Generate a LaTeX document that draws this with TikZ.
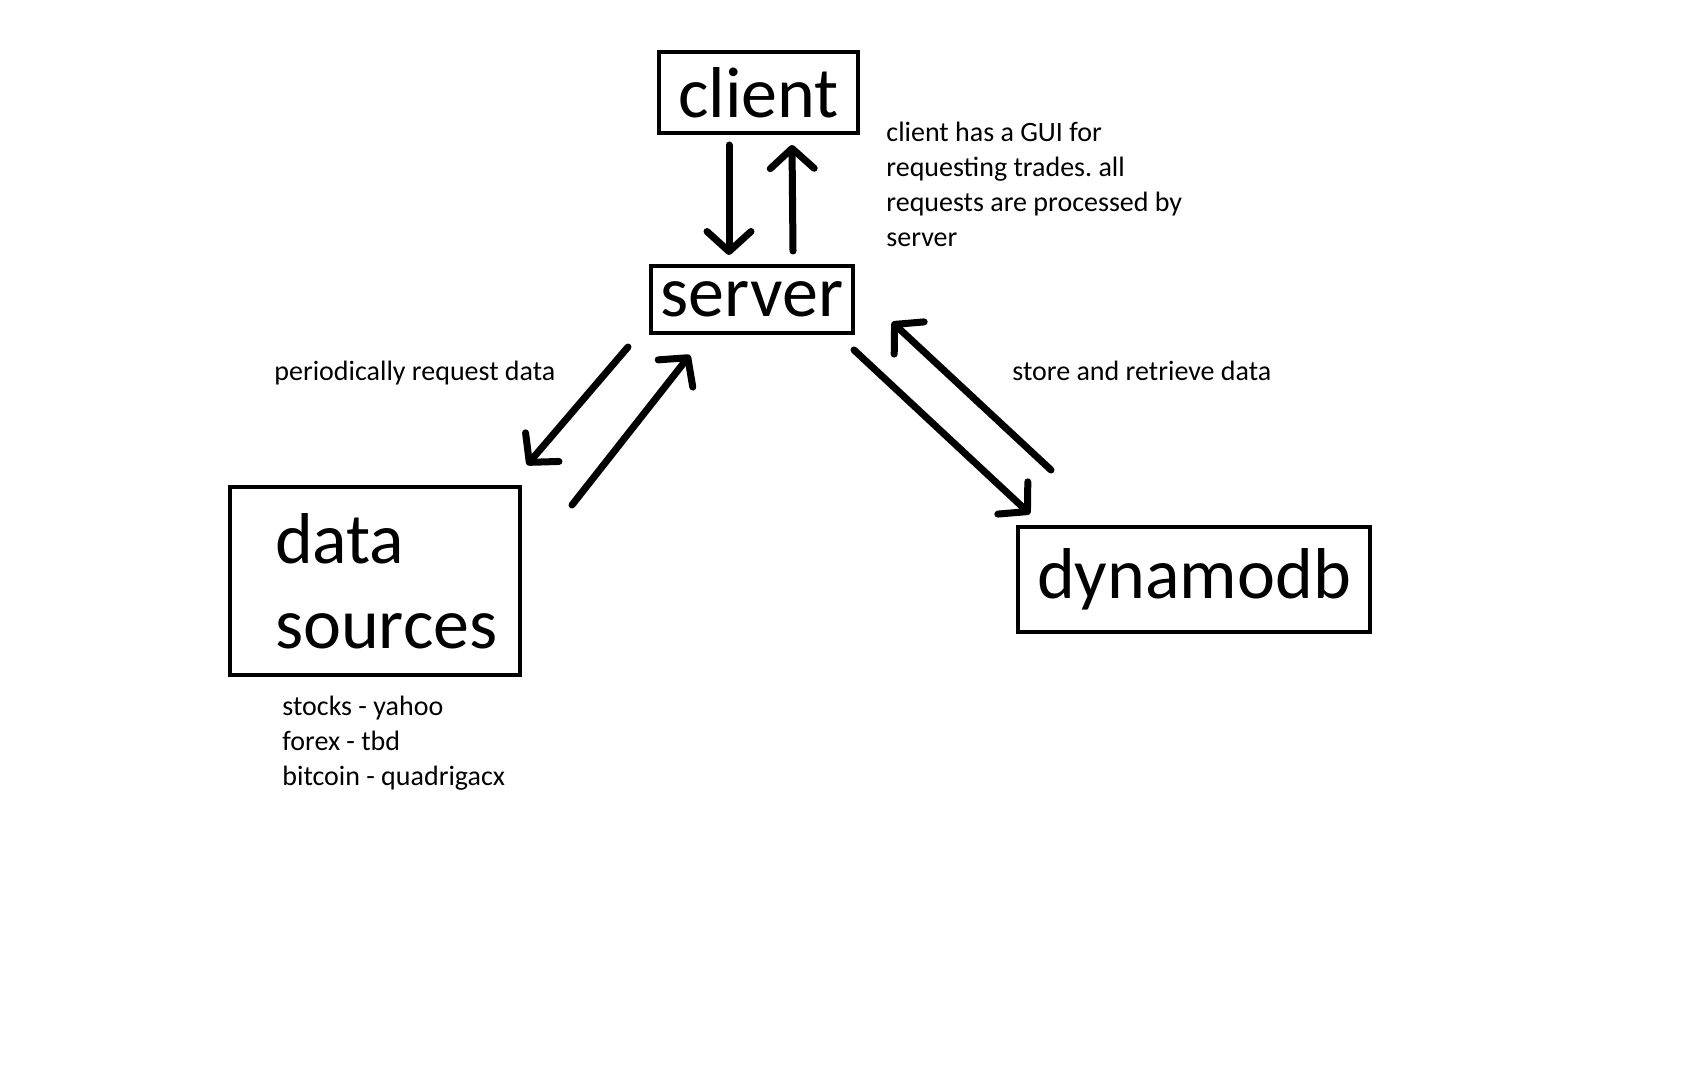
\documentclass[tikz,border=0pt]{standalone}
\usepackage{fontspec}
\setmainfont{Carlito}
\frenchspacing
\usetikzlibrary{arrows.meta}

\tikzset{
  box/.style={draw, line width=2pt, inner sep=0pt, font=\fontsize{36}{42.5}\selectfont},
  note/.style={inner sep=0pt, align=left, anchor=base west, font=\fontsize{14}{17.5}\selectfont},
  arr/.style={line width=3.5pt, line cap=round, -{Straight Barb[length=10pt,width=22pt,round]}}
}

\begin{document}
\begin{tikzpicture}[x=0.5pt, y=-0.5pt]
      \useasboundingbox (0,0) rectangle (1707,1075);
      \node[box, minimum width=99.5pt, minimum height=40.5pt] (client) at (758.5,92.5) {client};
      \node[box, minimum width=101pt, minimum height=33.5pt] (server) at (752,299.5) {server};
      \node[box, align=left, text width=100pt, inner xsep=22.5pt, minimum height=94pt] (data) at (375,581) {data\\\mbox{sources}};
      \node[box, minimum width=176pt, minimum height=52.5pt] (dynamo) at (1194,579.5) {dynamodb};

      % base of a multi-line note is its last line
      \node[note] (guinote) at (886,247) {client has a GUI for\\requesting trades. all\\requests are processed by\\server};
      \node[note] (fetchnote) at (274,380) {periodically request data};
      \node[note] (storenote) at (1012,380) {store and retrieve data};
      \node[note] (srcnote) at (282,785) {stocks - yahoo\\forex - tbd\\bitcoin - quadrigacx};

      \draw[arr] ([shift={(-29.5,10)}]client.south) -- ([shift={(-23,-9)}]server.north);
      \draw[arr] ([shift={(41,-13)}]server.north) -- ([shift={(33.5,10)}]client.south);
      \draw[arr] ([shift={(-21,12)}]server.south west) -- ([shift={(5,-20)}]data.north east);
      \draw[arr] ([shift={(50,20)}]data.north east) -- ([shift={(41,20)}]server.south west);
      \draw[arr] ([shift={(-1,15)}]server.south east) -- ([shift={(14,-11)}]dynamo.north west);
      \draw[arr] ([shift={(35,-55)}]dynamo.north west) -- ([shift={(37,-13)}]server.south east);
    \end{tikzpicture}
\end{document}
